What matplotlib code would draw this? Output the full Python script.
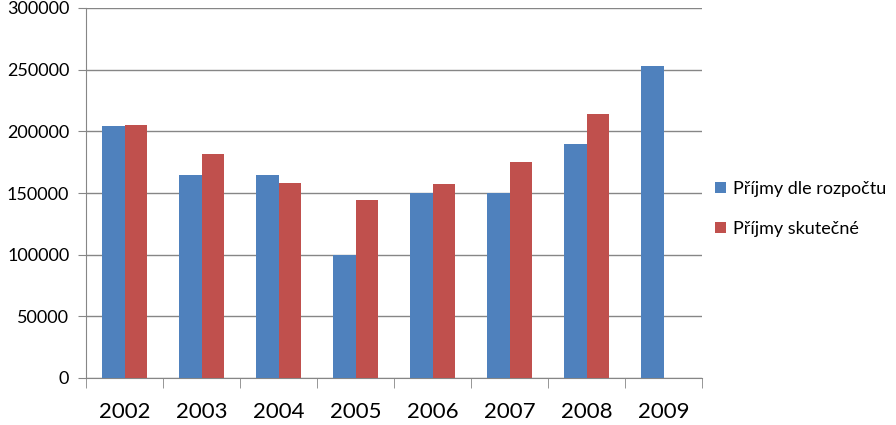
import numpy as np
import matplotlib
matplotlib.use("Agg")
import matplotlib.pyplot as plt

years = ["2002", "2003", "2004", "2005", "2006", "2007", "2008", "2009"]
planned = [204000, 165000, 165000, 100000, 150000, 150000, 190000, 253000]
actual = [205000, 182000, 158000, 144000, 157000, 175000, 214000, np.nan]
series_names = ["Příjmy dle rozpočtu", "Příjmy skutečné"]

plt.rcParams['font.family'] = ['Lato', 'DejaVu Sans']

fig = plt.figure(figsize=(8.96, 4.25), dpi=100)
ax = fig.add_axes([86 / 896, 47 / 425, 616 / 896, 370 / 425])

x = np.arange(len(years))
w = 0.286
ax.bar(x - w / 2, planned, w, color="#4F81BD", label=series_names[0], zorder=3)
ax.bar(x + w / 2, actual, w, color="#C0504D", label=series_names[1], zorder=3)

ax.set_xlim(-0.5, len(years) - 0.5)
ax.set_ylim(0, 300000)
ax.set_yticks(np.arange(0, 300001, 50000))
ax.set_yticklabels([str(v) for v in range(0, 300001, 50000)], fontsize=13)
ax.yaxis.grid(True, color="#868686", linewidth=1, zorder=0)

ax.set_xticks(x)
ax.set_xticklabels(years, fontsize=16)
ax.set_xticks(np.arange(-0.5, len(years)), minor=True)
ax.tick_params(axis="x", which="major", length=0, pad=17)
ax.tick_params(axis="x", which="minor", length=7, color="#868686")
ax.tick_params(axis="y", length=6, color="#868686", pad=6)

for s in ["top", "right"]:
    ax.spines[s].set_visible(False)
for s in ["left", "bottom"]:
    ax.spines[s].set_color("#868686")

ax.legend(loc="center left", bbox_to_anchor=(0.995, 0.457), frameon=False,
          fontsize=13, handlelength=0.6, handleheight=0.6, labelspacing=1.35,
          handletextpad=0.4)

fig.savefig("out.png", dpi=100)
